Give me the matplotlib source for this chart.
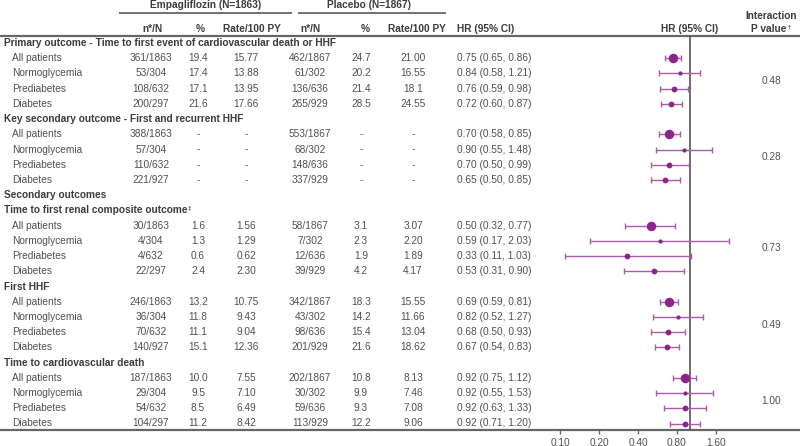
import matplotlib
matplotlib.use("Agg")
import matplotlib.pyplot as plt
from matplotlib.ticker import NullLocator, FixedLocator, FixedFormatter

plt.rcParams['font.family'] = ['Liberation Sans', 'DejaVu Sans']

# ---------------- data ----------------
subgroups = ["All patients", "Normoglycemia", "Prediabetes", "Diabetes"]

section_titles = [
    "Primary outcome - Time to first event of cardiovascular death or HHF",
    "Key secondary outcome - First and recurrent HHF",
    "Time to first renal composite outcome",
    "First HHF",
    "Time to cardiovascular death",
]
extra_title = "Secondary outcomes"

empa_nN = [
    ["361/1863", "53/304", "108/632", "200/297"],
    ["388/1863", "57/304", "110/632", "221/927"],
    ["30/1863", "4/304", "4/632", "22/297"],
    ["246/1863", "36/304", "70/632", "140/927"],
    ["187/1863", "29/304", "54/632", "104/297"],
]
empa_pct = [
    ["19.4", "17.4", "17.1", "21.6"],
    ["-", "-", "-", "-"],
    ["1.6", "1.3", "0.6", "2.4"],
    ["13.2", "11.8", "11.1", "15.1"],
    ["10.0", "9.5", "8.5", "11.2"],
]
empa_rate = [
    ["15.77", "13.88", "13.95", "17.66"],
    ["-", "-", "-", "-"],
    ["1.56", "1.29", "0.62", "2.30"],
    ["10.75", "9.43", "9.04", "12.36"],
    ["7.55", "7.10", "6.49", "8.42"],
]
plac_nN = [
    ["462/1867", "61/302", "136/636", "265/929"],
    ["553/1867", "68/302", "148/636", "337/929"],
    ["58/1867", "7/302", "12/636", "39/929"],
    ["342/1867", "43/302", "98/636", "201/929"],
    ["202/1867", "30/302", "59/636", "113/929"],
]
plac_pct = [
    ["24.7", "20.2", "21.4", "28.5"],
    ["-", "-", "-", "-"],
    ["3.1", "2.3", "1.9", "4.2"],
    ["18.3", "14.2", "15.4", "21.6"],
    ["10.8", "9.9", "9.3", "12.2"],
]
plac_rate = [
    ["21.00", "16.55", "18.1", "24.55"],
    ["-", "-", "-", "-"],
    ["3.07", "2.20", "1.89", "4.17"],
    ["15.55", "11.66", "13.04", "18.62"],
    ["8.13", "7.46", "7.08", "9.06"],
]
hr = [
    [0.75, 0.84, 0.76, 0.72],
    [0.70, 0.90, 0.70, 0.65],
    [0.50, 0.59, 0.33, 0.53],
    [0.69, 0.82, 0.68, 0.67],
    [0.92, 0.92, 0.92, 0.92],
]
hr_lo = [
    [0.65, 0.58, 0.59, 0.60],
    [0.58, 0.55, 0.50, 0.50],
    [0.32, 0.17, 0.11, 0.31],
    [0.59, 0.52, 0.50, 0.54],
    [0.75, 0.55, 0.63, 0.71],
]
hr_hi = [
    [0.86, 1.21, 0.98, 0.87],
    [0.85, 1.48, 0.99, 0.85],
    [0.77, 2.03, 1.03, 0.90],
    [0.81, 1.27, 0.93, 0.83],
    [1.12, 1.53, 1.33, 1.20],
]
p_interaction = ["0.48", "0.28", "0.73", "0.49", "1.00"]
tick_values = [0.10, 0.20, 0.40, 0.80, 1.60]
tick_labels = ["0.10", "0.20", "0.40", "0.80", "1.60"]

# ---------------- style / layout ----------------
W, H = 800, 446
TXT = "#505050"
BOLD = "#3c3c3c"
LINE = "#666666"
PURPLE = "#8b248b"
PURPLE_L = "#a85ca8"
FS = 7.3

row0, dy = 43.0, 15.22
def row_y(i):
    return row0 + dy * i

title_rows = [0, 5, 11, 16, 21]
extra_title_row = 10

x_label_title = 4
x_label_sub = 12
x_cols_val = [151, 198, 246, 310, 361, 413]
x_cols_hdr = [152, 200, 252, 310, 365, 417]
x_hr_text = 457
x_forest_hdr = 690
x_p = 771

marker_px = [9.5, 4.2, 5.8, 5.8]

fig = plt.figure(figsize=(W / 100, H / 100), dpi=100)
ax = fig.add_axes([0, 0, 1, 1])
ax.set_xlim(0, W)
ax.set_ylim(H, 0)
ax.axis("off")

ax.text(206, 5, "Empagliflozin (N=1863)", ha="center", va="center",
        fontsize=FS, fontweight="bold", color=BOLD)
ax.text(369, 5, "Placebo (N=1867)", ha="center", va="center",
        fontsize=FS, fontweight="bold", color=BOLD)
ax.plot([119, 292], [12.5, 12.5], color=LINE, lw=1.3, solid_capstyle="butt")
ax.plot([298, 446], [12.5, 12.5], color=LINE, lw=1.3, solid_capstyle="butt")

hdrs = ["n*/N", "%", "Rate/100 PY", "n*/N", "%", "Rate/100 PY"]
for x, h in zip(x_cols_hdr, hdrs):
    ax.text(x, 29.5, h, ha="center", va="center", fontsize=FS,
            fontweight="bold", color=BOLD)
ax.text(x_hr_text, 29.5, "HR (95% CI)", ha="left", va="center", fontsize=FS,
        fontweight="bold", color=BOLD)
ax.text(x_forest_hdr, 29.5, "HR (95% CI)", ha="center", va="center",
        fontsize=FS, fontweight="bold", color=BOLD)
ax.text(x_p, 16, "Interaction", ha="center", va="center", fontsize=FS,
        fontweight="bold", color=BOLD)
pv = ax.text(x_p - 2, 29.5, "P value", ha="center", va="center", fontsize=FS,
             fontweight="bold", color=BOLD)

ax.plot([0, W], [36, 36], color=LINE, lw=1.6, solid_capstyle="butt")
ax.plot([0, W], [430, 430], color=LINE, lw=1.6, solid_capstyle="butt")

title_objs = []
for r, t in zip(title_rows, section_titles):
    title_objs.append(ax.text(x_label_title, row_y(r), t, ha="left", va="center",
                              fontsize=FS, fontweight="bold", color=BOLD))
ax.text(x_label_title, row_y(extra_title_row), extra_title, ha="left",
        va="center", fontsize=FS, fontweight="bold", color=BOLD)

for s in range(len(section_titles)):
    for g, name in enumerate(subgroups):
        y = row_y(title_rows[s] + 1 + g)
        ax.text(x_label_sub, y, name, ha="left", va="center", fontsize=FS, color=TXT)
        vals = [empa_nN[s][g], empa_pct[s][g], empa_rate[s][g],
                plac_nN[s][g], plac_pct[s][g], plac_rate[s][g]]
        for x, v in zip(x_cols_val, vals):
            ax.text(x, y, v, ha="center", va="center", fontsize=FS, color=TXT)
        ax.text(x_hr_text, y,
                f"{hr[s][g]:.2f} ({hr_lo[s][g]:.2f}, {hr_hi[s][g]:.2f})",
                ha="left", va="center", fontsize=FS, color=TXT)
    ymid = (row_y(title_rows[s] + 2) + row_y(title_rows[s] + 3)) / 2
    ax.text(x_p, ymid, p_interaction[s], ha="center", va="center",
            fontsize=FS, color=TXT)

fig.canvas.draw()
rend = fig.canvas.get_renderer()
inv = ax.transData.inverted()
bb = title_objs[2].get_window_extent(rend)
x1 = inv.transform((bb.x1, bb.y1))[0]
ax.text(x1 + 0.5, row_y(title_rows[2]) - 2.5, "\u2021", ha="left", va="center",
        fontsize=4.6, fontweight="bold", color=BOLD)
bb = pv.get_window_extent(rend)
x1 = inv.transform((bb.x1, bb.y1))[0]
ax.text(x1 + 0.5, 27, "\u2020", ha="left", va="center",
        fontsize=4.6, fontweight="bold", color=BOLD)

# ---------------- forest plot ----------------
fx0, fx1 = 540, 740
axf = fig.add_axes([fx0 / W, (H - 430) / H, (fx1 - fx0) / W, (430 - 36) / H])
axf.set_xscale("log", base=2)
axf.set_xlim(0.07, 2.454)
axf.set_ylim(430, 36)
axf.patch.set_visible(False)
for sp in axf.spines.values():
    sp.set_visible(False)
axf.xaxis.set_major_locator(FixedLocator(tick_values))
axf.xaxis.set_major_formatter(FixedFormatter(tick_labels))
axf.xaxis.set_minor_locator(NullLocator())
axf.tick_params(axis="x", direction="out", length=2.6, width=1.0, color=LINE,
                labelsize=FS, labelcolor=TXT, pad=2.8)
axf.set_yticks([])
axf.axvline(1.0, color="#555555", lw=1.2, zorder=1)

for s in range(len(section_titles)):
    for g in range(len(subgroups)):
        y = row_y(title_rows[s] + 1 + g)
        h, lo, hi = hr[s][g], hr_lo[s][g], hr_hi[s][g]
        axf.errorbar([h], [y], xerr=[[h - lo], [hi - h]], fmt="none",
                     ecolor=PURPLE_L, elinewidth=1.0, capsize=1.9,
                     capthick=1.0, zorder=2)
        axf.plot([h], [y], "o", color=PURPLE, markersize=marker_px[g] * 0.72,
                 markeredgewidth=0, zorder=3)

fig.savefig("out.png", dpi=100)
